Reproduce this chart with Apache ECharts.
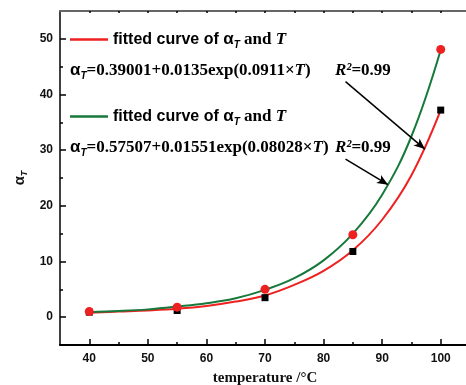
<!DOCTYPE html>
<html>
<head>
<meta charset="utf-8">
<script src="https://cdn.jsdelivr.net/npm/echarts@6/dist/echarts.min.js"></script>
<style>
  html, body { margin: 0; padding: 0; background: #fff; overflow: hidden; }
  #chart { width: 466px; height: 385px; }
</style>
</head>
<body>
<div id="chart"></div>
<script>
// measured points
const temps = [40, 55, 70, 85, 100];
const circleVals = [1.0, 1.8, 5.0, 14.8, 48.1];
const squareVals = [0.9, 1.2, 3.5, 11.8, 37.2];

// fitted curves, every 5 degC
const curveTemps = [40, 45, 50, 55, 60, 65, 70, 75, 80, 85, 90, 95, 100];
const greenFit = [0.9, 1.1, 1.4, 1.9, 2.5, 3.4, 4.9, 7.0, 10.2, 15.0, 22.0, 32.5, 48.0];
const redFit = [0.8, 1.0, 1.2, 1.5, 2.0, 2.8, 3.9, 5.8, 8.3, 12.0, 17.5, 25.5, 37.2];

const xLabels = [40, 50, 60, 70, 80, 90, 100];
const xMinor = [45, 55, 65, 75, 85, 95];
const xTop = [40, 45, 50, 55, 60, 65, 70, 75, 80, 85, 90, 95, 100];
const yLabels = [0, 10, 20, 30, 40, 50];
const yMinor = [5, 15, 25, 35, 45];

// arrows [from, to] in data space
const arrows = [
  [[83.75, 42.3], [97.3, 30.2]],
  [[83.75, 28.4], [91.0, 23.8]],
];

const SANS = "Liberation Sans";
const SERIF = "Liberation Serif";
const RED = "#ef2020";
const GREEN = "#16783a";

const eqRich = {
  a: { fontFamily: SANS, fontWeight: "bold", fontSize: 17, color: "#000", lineHeight: 22, verticalAlign: "middle" },
  t: { fontFamily: SANS, fontWeight: "bold", fontStyle: "italic", fontSize: 10, color: "#000", lineHeight: 10, verticalAlign: "bottom" },
  e: { fontFamily: SERIF, fontWeight: "bold", fontSize: 17, color: "#000", lineHeight: 22, verticalAlign: "middle" },
  i: { fontFamily: SERIF, fontWeight: "bold", fontStyle: "italic", fontSize: 17, color: "#000", lineHeight: 22, verticalAlign: "middle" },
  s: { fontFamily: SANS, fontWeight: "bold", fontSize: 16, color: "#000", lineHeight: 22, verticalAlign: "middle" },
};

const chart = echarts.init(document.getElementById("chart"), null, { renderer: "canvas" });

const baseX = { type: "value", min: 35, max: 105, splitLine: { show: false } };
const baseY = { type: "value", min: -5, max: 55, splitLine: { show: false } };

const legendText = () => "{s|fitted curve of }{a|α}{t|T}{e| and }{i|T}";

chart.setOption({
  animation: false,
  grid: { left: 60, right: -4, top: 11, bottom: 40, outerBoundsMode: "none", containLabel: false },
  legend: [
    {
      data: [{ name: "fitRed", icon: "rect" }], left: 70, top: 31, padding: 0,
      itemWidth: 38, itemHeight: 2.5, formatter: legendText,
      textStyle: { rich: eqRich },
    },
    {
      data: [{ name: "fitGreen", icon: "rect" }], left: 70, top: 108, padding: 0,
      itemWidth: 38, itemHeight: 2.5, formatter: legendText,
      textStyle: { rich: eqRich },
    },
  ],
  graphic: [
    {
      type: "text", left: 70, top: 62,
      style: { text: "{a|α}{t|T}{e|=0.39001+0.0135exp(0.0911×}{i|T}{e|)}", rich: eqRich },
    },
    {
      type: "text", left: 335, top: 62,
      style: { text: "{i|R²}{e|=0.99}", rich: eqRich },
    },
    {
      type: "text", left: 70, top: 139,
      style: { text: "{a|α}{t|T}{e|=0.57507+0.01551exp(0.08028×}{i|T}{e|)}", rich: eqRich },
    },
    {
      type: "text", left: 335, top: 139,
      style: { text: "{i|R²}{e|=0.99}", rich: eqRich },
    },
  ],
  xAxis: [
    {
      ...baseX,
      name: "temperature /°C",
      nameLocation: "middle",
      nameGap: 26,
      nameTextStyle: { fontFamily: SERIF, fontWeight: "bold", fontSize: 15, color: "#111" },
      axisLine: { onZero: false, lineStyle: { color: "#000", width: 2 } },
      axisTick: { inside: true, length: 6, customValues: xLabels, lineStyle: { color: "#000", width: 1.5 } },
      axisLabel: { customValues: xLabels, margin: 8, fontFamily: SANS, fontWeight: "bold", fontSize: 12, color: "#111" },
    },
    {
      ...baseX,
      position: "bottom",
      axisLine: { show: false, onZero: false },
      axisTick: { inside: true, length: 3, customValues: xMinor, lineStyle: { color: "#000", width: 1.5 } },
      axisLabel: { show: false },
    },
    {
      ...baseX,
      position: "top",
      axisLine: { onZero: false, lineStyle: { color: "#666", width: 2 } },
      axisTick: { inside: true, length: 2, customValues: xTop, lineStyle: { color: "#000", width: 1.5 } },
      axisLabel: { show: false },
    },
  ],
  yAxis: [
    {
      ...baseY,
      name: "{a|α}{t|T}",
      nameLocation: "middle",
      nameRotate: 90,
      nameGap: 30,
      nameTextStyle: {
        rich: {
          a: { fontFamily: SANS, fontWeight: "bold", fontSize: 15, color: "#111", lineHeight: 18, verticalAlign: "middle" },
          t: { fontFamily: SANS, fontWeight: "bold", fontStyle: "italic", fontSize: 9, color: "#111", lineHeight: 9, verticalAlign: "bottom" },
        },
      },
      axisLine: { show: true, onZero: false, lineStyle: { color: "#000", width: 1.5 } },
      axisTick: { show: true, inside: true, length: 6, customValues: yLabels, lineStyle: { color: "#000", width: 1.5 } },
      axisLabel: { customValues: yLabels, margin: 7, fontFamily: SANS, fontWeight: "bold", fontSize: 12, color: "#111" },
    },
    {
      ...baseY,
      position: "left",
      axisLine: { show: false, onZero: false },
      axisTick: { show: true, inside: true, length: 3, customValues: yMinor, lineStyle: { color: "#000", width: 1.5 } },
      axisLabel: { show: false },
    },
  ],
  series: [
    {
      name: "fitRed",
      type: "line",
      smooth: 0.4,
      symbol: "none",
      data: curveTemps.map((t, i) => [t, redFit[i]]),
      lineStyle: { color: RED, width: 2 },
      itemStyle: { color: RED },
      z: 3,
      markLine: {
        silent: true,
        symbol: ["none", "arrow"],
        symbolSize: [7, 11],
        label: { show: false },
        lineStyle: { color: "#000", width: 1.5, type: "solid" },
        data: arrows.map(([a, b]) => [{ coord: a }, { coord: b }]),
      },
    },
    {
      name: "fitGreen",
      type: "line",
      smooth: 0.4,
      symbol: "none",
      data: curveTemps.map((t, i) => [t, greenFit[i]]),
      lineStyle: { color: GREEN, width: 2 },
      itemStyle: { color: GREEN },
      z: 3,
    },
    {
      name: "squares",
      type: "scatter",
      symbol: "rect",
      symbolSize: 7,
      data: temps.map((t, i) => [t, squareVals[i]]),
      itemStyle: { color: "#000", opacity: 1 },
      z: 4,
    },
    {
      name: "circles",
      type: "scatter",
      symbol: "circle",
      symbolSize: 9,
      data: temps.map((t, i) => [t, circleVals[i]]),
      itemStyle: { color: RED, opacity: 1 },
      z: 5,
    },
  ],
});
</script>
</body>
</html>
